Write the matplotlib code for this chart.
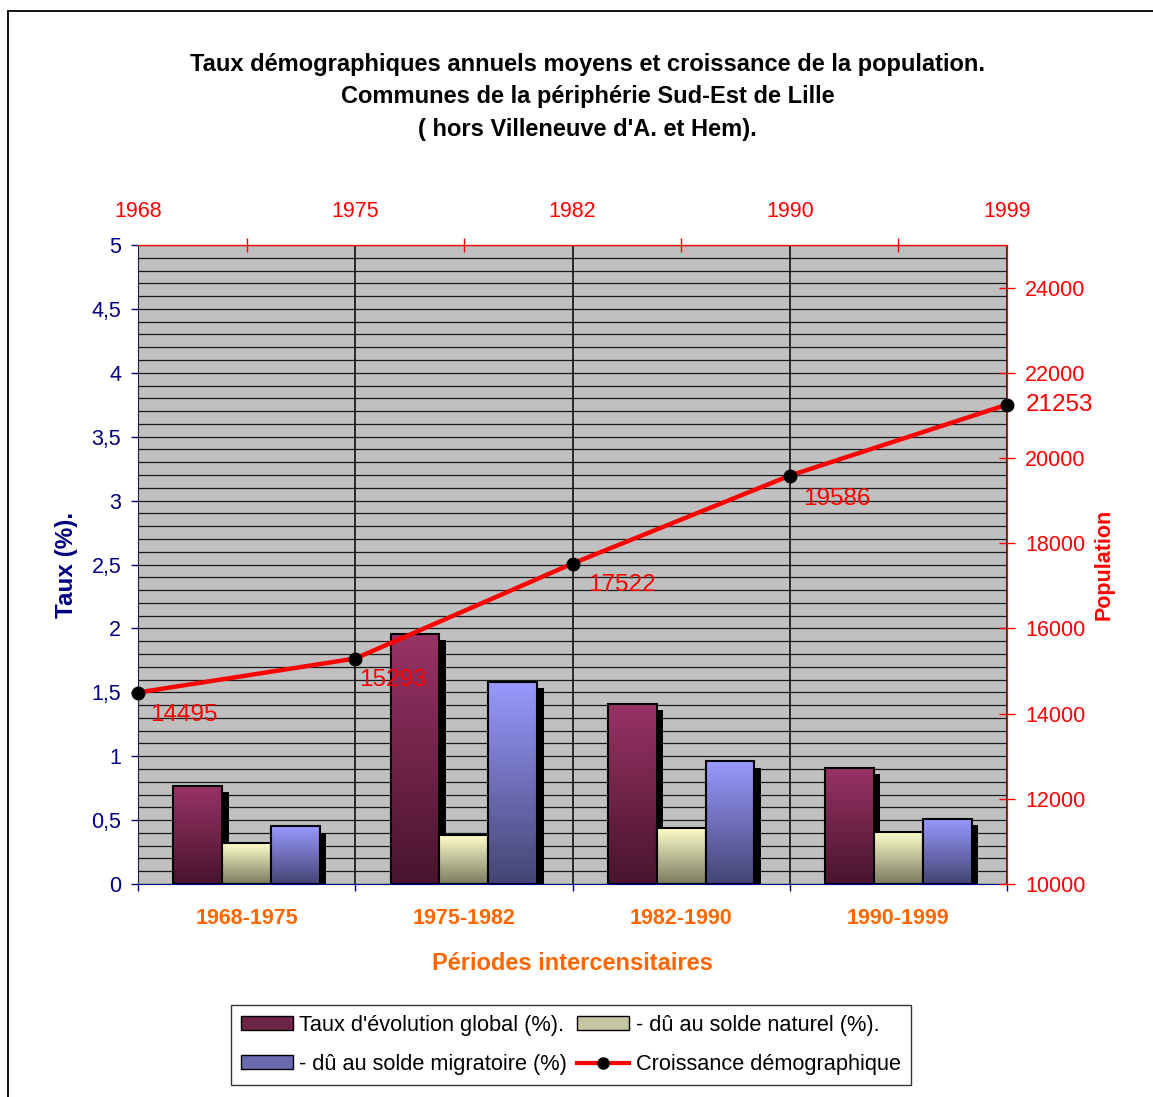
import numpy as np
import matplotlib
matplotlib.use("Agg")
import matplotlib.pyplot as plt
from matplotlib.colors import LinearSegmentedColormap
from matplotlib.patches import Rectangle, Patch
from matplotlib.lines import Line2D

plt.rcParams['font.family'] = ['Liberation Sans', 'DejaVu Sans']

# data
periods = ['1968-1975', '1975-1982', '1982-1990', '1990-1999']
years = ['1968', '1975', '1982', '1990', '1999']
taux_global = [0.77, 1.96, 1.41, 0.91]
taux_naturel = [0.32, 0.38, 0.44, 0.41]
taux_migratoire = [0.45, 1.58, 0.96, 0.51]
population = [14495, 15293, 17522, 19586, 21253]

NAVY = '#000080'
RED = '#FF0000'
ORANGE = '#FF6600'

series = [
    (taux_global, "Taux d'évolution global (%).", '#993366', '#48142D', '#6E2447'),
    (taux_naturel, "- dû au solde naturel (%).", '#FFFFCC', '#7A7A60', '#C4C4A0'),
    (taux_migratoire, "- dû au solde migratoire (%)", '#9999FF', '#444473', '#6A6AB0'),
]

fig = plt.figure(figsize=(11.53, 10.97), dpi=100)
ax = fig.add_axes([138 / 1153, 1 - 884 / 1097, (1007 - 138) / 1153, (884 - 245) / 1097])
ax.set_facecolor('#C0C0C0')
ax.set_xlim(0, len(periods))
ax.set_ylim(0, 5)

# grid: horizontal every 0.1, vertical at period boundaries
ax.set_yticks(np.arange(0, 5.01, 0.5))
ax.set_yticks(np.arange(0, 5.01, 0.1), minor=True)
ax.yaxis.grid(True, which='both', color='#1a1a1a', lw=0.9)
ax.set_xticks(np.arange(len(years)))
ax.xaxis.grid(True, which='major', color='black', lw=1.1)
ax.set_axisbelow(True)

ax.set_yticklabels([('%g' % v).replace('.', ',') for v in np.arange(0, 5.01, 0.5)])
ax.tick_params(axis='y', which='major', colors=NAVY, labelsize=15.5, length=5, width=1, pad=7)
ax.tick_params(axis='y', which='minor', length=0)
ax.set_xticks(np.arange(len(periods)) + 0.5, minor=True)
ax.set_xticklabels([], minor=False)
ax.set_xticklabels(periods, minor=True)
ax.tick_params(axis='x', which='major', colors=NAVY, length=5, width=1, direction='out')
ax.tick_params(axis='x', which='minor', length=0, pad=17.5, labelsize=15.5, labelcolor=ORANGE)
for lbl in ax.get_xticklabels(minor=True):
    lbl.set_fontweight('bold')
ax.spines['left'].set_color('#202040')
ax.spines['bottom'].set_color(NAVY)
ax.spines['top'].set_color(RED)
ax.spines['right'].set_color(RED)

# bars with gradient and drop shadow
w = 0.225
dx_sh, dy_sh = 0.03, 0.05
for i, (vals, name, c_top, c_bot, c_leg) in enumerate(series):
    cmap = LinearSegmentedColormap.from_list(name, [c_bot, c_top])
    grad = np.linspace(0, 1, 256).reshape(-1, 1)
    for j, v in enumerate(vals):
        x0 = j + 0.5 + (i - 1.5) * w
        ax.add_patch(Rectangle((x0 + dx_sh, 0), w, max(v - dy_sh, 0), facecolor='black',
                               edgecolor='none', zorder=2 + i * 0.1))
        ax.imshow(grad, cmap=cmap, origin='lower', aspect='auto',
                  extent=(x0, x0 + w, 0, v), zorder=2.05 + i * 0.1)
        ax.add_patch(Rectangle((x0, 0), w, v, facecolor='none', edgecolor='black',
                               lw=1.5, zorder=2.06 + i * 0.1))
ax.set_xlim(0, len(periods))
ax.set_ylim(0, 5)

ax.set_ylabel('Taux (%).', color=NAVY, fontsize=17.5, fontweight='bold', labelpad=10)
ax.set_xlabel('Périodes intercensitaires', color=ORANGE, fontsize=17, fontweight='bold',
              labelpad=16)

# population line on secondary axis
ax2 = ax.twinx()
ax2.set_ylim(10000, 25000)
ax2.set_yticks(np.arange(10000, 24001, 2000))
ax2.tick_params(axis='y', colors=RED, labelsize=15.5, length=12, width=1, direction='inout', pad=7)
ax2.spines['right'].set_color(RED)
ax2.spines['top'].set_color(RED)
ax2.spines['left'].set_visible(False)
ax2.spines['bottom'].set_visible(False)
xs = np.arange(len(population))
ax2.plot(xs, population, color=RED, lw=3.2, marker='o', ms=9, mfc='black', mec='black',
         zorder=5, clip_on=False)
ax2.set_ylabel('Population', color=RED, fontsize=15.5, fontweight='bold', labelpad=6)

label_offsets = [(12, -22), (4, -21), (16, -21), (13, -23), (19, 0)]
for x, p, off in zip(xs, population, label_offsets):
    ax2.annotate(str(p), (x, p), xytext=off, textcoords='offset pixels', color=RED,
                 fontsize=17.5, ha='left', va='center', zorder=6)

# top axis with years
top = ax.secondary_xaxis('top')
top.set_xticks(np.arange(len(years)))
top.set_xticklabels(years)
top.set_xticks(np.arange(len(periods)) + 0.5, minor=True)
top.tick_params(axis='x', which='major', length=0, pad=16.5, labelsize=15.5, labelcolor=RED)
top.tick_params(axis='x', which='minor', length=10, direction='inout', color=RED, width=1)
top.spines['top'].set_color(RED)

fig.text(0.5096, 1 - 97 / 1097,
         "Taux démographiques annuels moyens et croissance de la population.\n"
         "Communes de la périphérie Sud-Est de Lille\n"
         "( hors Villeneuve d'A. et Hem).",
         ha='center', va='center', fontsize=17, fontweight='bold', linespacing=1.52)

handles = [Patch(facecolor=series[0][4], edgecolor='black'),
           Patch(facecolor=series[2][4], edgecolor='black'),
           Patch(facecolor=series[1][4], edgecolor='black'),
           Line2D([], [], color=RED, lw=3, marker='o', ms=8, mfc='black', mec='black')]
labels = [series[0][1], series[2][1], series[1][1], 'Croissance démographique']
leg = fig.legend(handles, labels, ncol=2, loc='center', bbox_to_anchor=(0.495, 1 - 1045 / 1097),
                 fontsize=15.7, frameon=True, fancybox=False, edgecolor='black',
                 handlelength=2.4, handleheight=0.6, handletextpad=0.3, columnspacing=0.45,
                 labelspacing=0.82, borderpad=0.45, borderaxespad=0)
leg.get_frame().set_linewidth(1)

fig.patches.append(Rectangle((8 / 1153, -0.05), 1.1, 1 - 11 / 1097 + 0.05,
                             transform=fig.transFigure, fill=False, edgecolor='black', lw=1.3))

fig.savefig('out.png', dpi=100)
